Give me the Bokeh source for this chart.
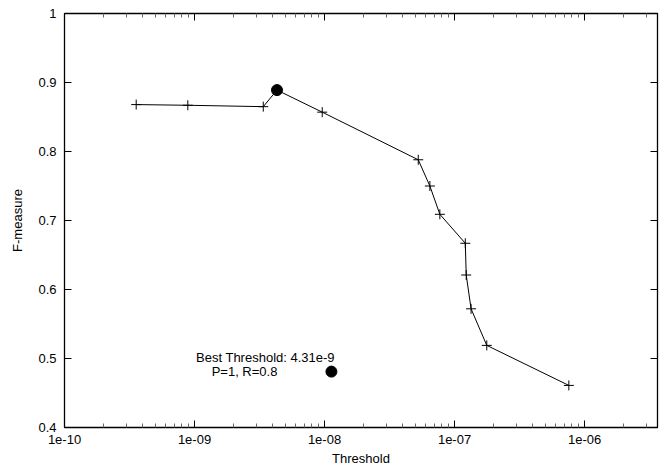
from bokeh.plotting import figure
from bokeh.models import LogAxis, LinearAxis, FixedTicker, CustomJSTickFormatter, Range1d
from bokeh.core.properties import value
from bokeh.embed import file_html
from bokeh.resources import INLINE

# ---- data ----
thresholds = [3.56e-10, 8.88e-10, 3.38e-9, 4.31e-9, 9.6e-9, 5.26e-8, 6.46e-8,
              7.71e-8, 1.21e-7, 1.23e-7, 1.34e-7, 1.77e-7, 7.57e-7]
f_measure = [0.868, 0.867, 0.865, 0.889, 0.857, 0.788, 0.750,
             0.709, 0.667, 0.621, 0.572, 0.519, 0.461]
best_index = 3

key_title = "Best Threshold: 4.31e-9"
key_entry = "P=1, R=0.8"
key_point_x = [1.13e-8]
key_point_y = [0.481]

x_ticks = [1e-10, 1e-9, 1e-8, 1e-7, 1e-6]
x_tick_labels = ["1e-10", "1e-09", "1e-08", "1e-07", "1e-06"]
y_ticks = [0.4, 0.5, 0.6, 0.7, 0.8, 0.9, 1.0]
y_tick_labels = ["0.4", "0.5", "0.6", "0.7", "0.8", "0.9", "1"]
x_min, x_max = 1e-10, 3.64e-6
y_min, y_max = 0.4, 1.0

FONT = "Liberation Sans"
FS = "13px"

other_x = [x for i, x in enumerate(thresholds) if i != best_index]
other_y = [y for i, y in enumerate(f_measure) if i != best_index]

minor_x = [k * t for t in x_ticks for k in range(2, 10) if k * t <= x_max]

p = figure(width=666, height=468, x_axis_type="log",
           x_range=Range1d(x_min, x_max), y_range=Range1d(y_min, y_max),
           output_backend="svg", toolbar_location=None,
           min_border_left=64, min_border_top=13, min_border_right=9,
           min_border_bottom=38)
p.grid.visible = False
p.outline_line_color = "black"
p.outline_line_width = 1.3
p.background_fill_color = "white"
p.border_fill_color = "white"

xt = FixedTicker(ticks=x_ticks, minor_ticks=minor_x)
yt = FixedTicker(ticks=y_ticks, minor_ticks=[])

xa = p.xaxis[0]
xa.ticker = xt
xa.major_label_overrides = dict(zip(x_ticks, x_tick_labels))
xa.axis_label = "Threshold"

ya = p.yaxis[0]
ya.ticker = yt
ya.major_label_overrides = dict(zip(y_ticks, y_tick_labels))
ya.axis_label = "F-measure"

top = LogAxis(ticker=xt, formatter=CustomJSTickFormatter(code="return ''"))
right = LinearAxis(ticker=yt, formatter=CustomJSTickFormatter(code="return ''"))
p.add_layout(top, "above")
p.add_layout(right, "right")

for ax in [xa, ya, top, right]:
    ax.axis_line_color = None
    ax.major_tick_in = 7
    ax.major_tick_out = 0
    ax.minor_tick_in = 4
    ax.minor_tick_out = 0
    ax.major_tick_line_color = "black"
    ax.minor_tick_line_color = "#666666"
    ax.major_label_text_font = FONT
    ax.major_label_text_font_size = FS
    ax.major_label_text_color = "black"
    ax.axis_label_text_font = FONT
    ax.axis_label_text_font_size = FS
    ax.axis_label_text_font_style = "normal"
    ax.axis_label_text_color = "black"

xa.major_label_standoff = 7
xa.axis_label_standoff = 4
ya.major_label_standoff = 8
ya.axis_label_standoff = 10
top.major_label_standoff = 0
right.major_label_standoff = 0

p.line(thresholds, f_measure, line_color="black", line_width=1)
p.scatter(other_x, other_y, marker="cross", size=10, line_color="black", line_width=1)
p.scatter([thresholds[best_index]], [f_measure[best_index]], marker="circle",
          size=11, fill_color="black", line_color="black")

# key (gnuplot-style): title above, entry text right-aligned to the left of the sample
p.scatter(key_point_x, key_point_y, marker="circle", size=11,
          fill_color="black", line_color="black")
p.text(key_point_x, key_point_y, text=[key_title], x_offset=-66, y_offset=-14,
       text_align="center", text_baseline="middle",
       text_font=value(FONT), text_font_size=FS, text_color="black")
p.text(key_point_x, key_point_y, text=[key_entry], x_offset=-54, y_offset=0,
       text_align="right", text_baseline="middle",
       text_font=value(FONT), text_font_size=FS, text_color="black")

open("out.html", "w").write(file_html(p, INLINE))
